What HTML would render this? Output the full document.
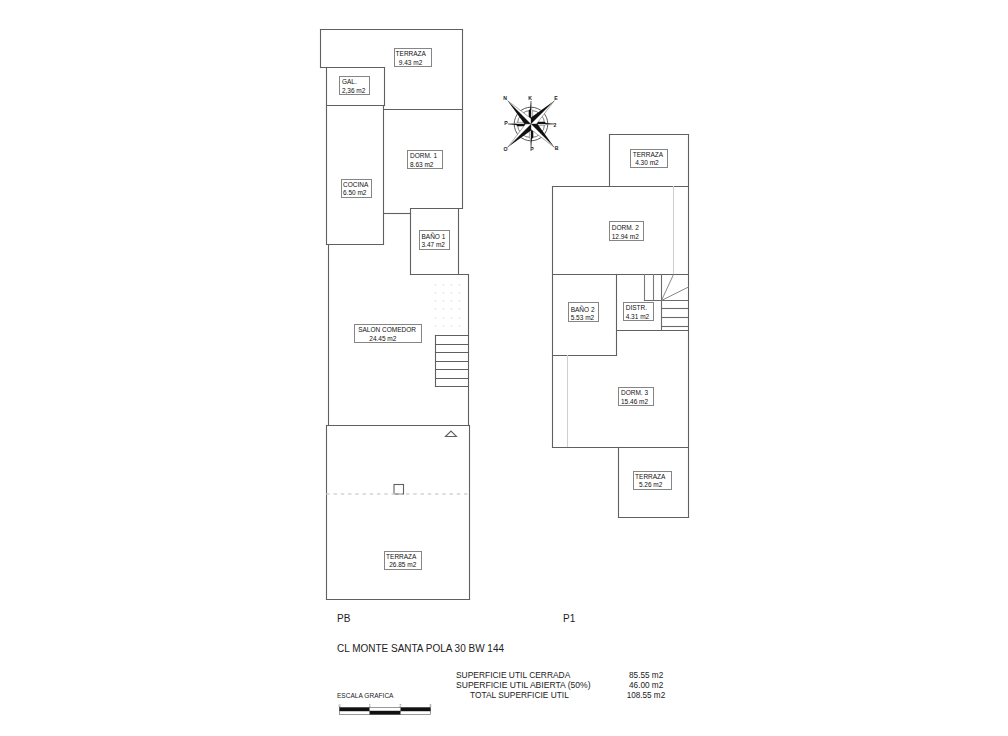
<!DOCTYPE html>
<html><head><meta charset="utf-8">
<style>
html,body{margin:0;padding:0;background:#fff;}
body{width:1008px;height:736px;overflow:hidden;position:relative;}
svg{position:absolute;left:0;top:0;}
text{font-family:"Liberation Sans",sans-serif;}
</style></head><body>
<svg width="1008" height="736" viewBox="0 0 1008 736">
<rect x="0" y="0" width="1008" height="736" fill="#fff"/>
<g stroke="#606060" stroke-width="1.1" fill="none" stroke-linecap="square">
<line x1="320.5" y1="29.5" x2="462.5" y2="29.5"/>
<line x1="320.5" y1="29.5" x2="320.5" y2="67.5"/>
<line x1="320.5" y1="67.5" x2="384.5" y2="67.5"/>
<line x1="462.5" y1="29.5" x2="462.5" y2="208"/>
<line x1="326.5" y1="67.5" x2="326.5" y2="244.5"/>
<line x1="384.5" y1="67.5" x2="384.5" y2="105.5"/>
<line x1="383.5" y1="105.5" x2="383.5" y2="244.5"/>
<line x1="326.5" y1="105.5" x2="384.5" y2="105.5"/>
<line x1="383.5" y1="109.5" x2="462.5" y2="109.5"/>
<line x1="326.5" y1="244.5" x2="383.5" y2="244.5"/>
<line x1="383.5" y1="213.5" x2="410.5" y2="213.5"/>
<line x1="410.5" y1="208.5" x2="462.5" y2="208.5"/>
<line x1="410.5" y1="208.5" x2="410.5" y2="274.5"/>
<line x1="458.5" y1="208.5" x2="458.5" y2="274.5"/>
<line x1="410.5" y1="274.5" x2="468.5" y2="274.5"/>
<line x1="468.5" y1="274.5" x2="468.5" y2="425.5"/>
<line x1="328.5" y1="244.5" x2="328.5" y2="425.5"/>
<line x1="326.5" y1="425.5" x2="469.5" y2="425.5"/>
<line x1="326.5" y1="425.5" x2="326.5" y2="599.5"/>
<line x1="469.5" y1="425.5" x2="469.5" y2="599.5"/>
<line x1="326.5" y1="599.5" x2="469.5" y2="599.5"/>
<line x1="435.5" y1="335.5" x2="468.5" y2="335.5"/>
<line x1="435.5" y1="335.5" x2="435.5" y2="386.5"/>
<line x1="435.5" y1="386.5" x2="468.5" y2="386.5"/>
<line x1="435.5" y1="344.5" x2="468.5" y2="344.5"/>
<line x1="435.5" y1="352.5" x2="468.5" y2="352.5"/>
<line x1="435.5" y1="361.5" x2="468.5" y2="361.5"/>
<line x1="435.5" y1="369.5" x2="468.5" y2="369.5"/>
<line x1="435.5" y1="378.5" x2="468.5" y2="378.5"/>
<line x1="609.5" y1="134.5" x2="688.5" y2="134.5"/>
<line x1="609.5" y1="134.5" x2="609.5" y2="186.5"/>
<line x1="688.5" y1="134.5" x2="688.5" y2="517.5"/>
<line x1="552.5" y1="186.5" x2="688.5" y2="186.5"/>
<line x1="552.5" y1="186.5" x2="552.5" y2="447.5"/>
<line x1="673.5" y1="186.5" x2="673.5" y2="274.5" stroke="#d0d0d0"/>
<line x1="552.5" y1="274.5" x2="688.5" y2="274.5"/>
<line x1="616.5" y1="274.5" x2="616.5" y2="355.5"/>
<line x1="552.5" y1="355.5" x2="616.5" y2="355.5"/>
<line x1="616.5" y1="330.5" x2="688.5" y2="330.5"/>
<line x1="644.5" y1="274.5" x2="644.5" y2="300.5" stroke="#7a7a7a"/>
<line x1="653.5" y1="274.5" x2="653.5" y2="300.5" stroke="#7a7a7a"/>
<line x1="661.5" y1="274.5" x2="661.5" y2="330.5" stroke="#6a6a6a"/>
<line x1="644.5" y1="300.5" x2="688.5" y2="300.5" stroke="#6a6a6a"/>
<line x1="661.5" y1="308.5" x2="688.5" y2="308.5" stroke="#6a6a6a"/>
<line x1="661.5" y1="317.5" x2="688.5" y2="317.5" stroke="#6a6a6a"/>
<line x1="661.5" y1="326.5" x2="688.5" y2="326.5" stroke="#6a6a6a"/>
<line x1="661.5" y1="300.5" x2="673.5" y2="274.5" stroke="#7a7a7a" stroke-width="0.9"/>
<line x1="661.5" y1="300.5" x2="688.5" y2="287" stroke="#7a7a7a" stroke-width="0.9"/>
<line x1="567.5" y1="355.5" x2="567.5" y2="447.5" stroke="#d0d0d0"/>
<line x1="552.5" y1="447.5" x2="688.5" y2="447.5"/>
<line x1="618.5" y1="447.5" x2="618.5" y2="517.5"/>
<line x1="618.5" y1="517.5" x2="688.5" y2="517.5"/>
<polygon points="445.5,436.5 451,431 456.5,436.5" />
<rect x="394" y="484.5" width="9.5" height="9.5"/>
<line x1="327" y1="494" x2="469" y2="494" stroke="#d4d4d4" stroke-width="1.4" stroke-dasharray="2,5.25"/>
<circle cx="435.5" cy="285" r="1" fill="#e9e9e9" stroke="none"/><circle cx="435.5" cy="293" r="1" fill="#e9e9e9" stroke="none"/><circle cx="435.5" cy="301" r="1" fill="#e9e9e9" stroke="none"/><circle cx="435.5" cy="309" r="1" fill="#e9e9e9" stroke="none"/><circle cx="435.5" cy="318" r="1" fill="#e9e9e9" stroke="none"/><circle cx="435.5" cy="326" r="1" fill="#e9e9e9" stroke="none"/><circle cx="443.5" cy="285" r="1" fill="#e9e9e9" stroke="none"/><circle cx="443.5" cy="293" r="1" fill="#e9e9e9" stroke="none"/><circle cx="443.5" cy="301" r="1" fill="#e9e9e9" stroke="none"/><circle cx="443.5" cy="309" r="1" fill="#e9e9e9" stroke="none"/><circle cx="443.5" cy="318" r="1" fill="#e9e9e9" stroke="none"/><circle cx="443.5" cy="326" r="1" fill="#e9e9e9" stroke="none"/><circle cx="451.5" cy="285" r="1" fill="#e9e9e9" stroke="none"/><circle cx="451.5" cy="293" r="1" fill="#e9e9e9" stroke="none"/><circle cx="451.5" cy="301" r="1" fill="#e9e9e9" stroke="none"/><circle cx="451.5" cy="309" r="1" fill="#e9e9e9" stroke="none"/><circle cx="451.5" cy="318" r="1" fill="#e9e9e9" stroke="none"/><circle cx="451.5" cy="326" r="1" fill="#e9e9e9" stroke="none"/><circle cx="459.5" cy="285" r="1" fill="#e9e9e9" stroke="none"/><circle cx="459.5" cy="293" r="1" fill="#e9e9e9" stroke="none"/><circle cx="459.5" cy="301" r="1" fill="#e9e9e9" stroke="none"/><circle cx="459.5" cy="309" r="1" fill="#e9e9e9" stroke="none"/><circle cx="459.5" cy="318" r="1" fill="#e9e9e9" stroke="none"/><circle cx="459.5" cy="326" r="1" fill="#e9e9e9" stroke="none"/>
</g>
<g stroke="#858585" stroke-width="1" fill="none">
<rect x="394.5" y="48.5" width="37.0" height="18.0"/>
<rect x="339.5" y="76.5" width="30.0" height="18.0"/>
<rect x="341.5" y="179.5" width="30.0" height="18.0"/>
<rect x="407.5" y="150.5" width="35.0" height="18.0"/>
<rect x="419.5" y="230.5" width="30.0" height="19.0"/>
<rect x="354.5" y="324.5" width="67.0" height="18.0"/>
<rect x="384.5" y="551.5" width="37.0" height="18.0"/>
<rect x="630.5" y="149.5" width="37.0" height="18.0"/>
<rect x="609.5" y="221.5" width="34.0" height="19.0"/>
<rect x="568.5" y="302.5" width="30.0" height="19.0"/>
<rect x="623.5" y="302.5" width="30.0" height="18.0"/>
<rect x="618.5" y="387.5" width="35.0" height="18.0"/>
<rect x="633.5" y="471.5" width="38.0" height="18.0"/>
</g>
<g fill="#111" font-size="6.5">
<text x="395.6" y="56.3">TERRAZA</text>
<text x="398.8" y="64.80000000000001">9.43 m2</text>
<text x="341.90000000000003" y="84.0">GAL.</text>
<text x="341.90000000000003" y="93.2">2,36 m2</text>
<text x="343.0" y="187.20000000000002">COCINA</text>
<text x="343.0" y="195.0">6.50 m2</text>
<text x="410.0" y="158.20000000000002">DORM. 1</text>
<text x="410.0" y="167.20000000000002">8.63 m2</text>
<text x="421.5" y="239.3">BAÑO 1</text>
<text x="421.5" y="247.0">3.47 m2</text>
<text x="358.20000000000005" y="332.29999999999995">SALON COMEDOR</text>
<text x="369.3" y="340.9">24.45 m2</text>
<text x="386.1" y="559.1999999999999">TERRAZA</text>
<text x="389.20000000000005" y="567.0">26.85 m2</text>
<text x="632.7" y="157.20000000000002">TERRAZA</text>
<text x="635.2" y="165.3">4.30 m2</text>
<text x="611.7" y="230.1">DORM. 2</text>
<text x="611.7" y="238.9">12.94 m2</text>
<text x="570.7" y="311.9">BAÑO 2</text>
<text x="570.7" y="319.5">5.53 m2</text>
<text x="625.7" y="310.09999999999997">DISTR.</text>
<text x="625.7" y="319.0">4.31 m2</text>
<text x="621.0" y="395.29999999999995">DORM. 3</text>
<text x="621.0" y="404.0">15.46 m2</text>
<text x="635.1" y="479.09999999999997">TERRAZA</text>
<text x="638.9" y="487.2">5.26 m2</text>
</g>
<g fill="#222">
<text x="337" y="621.5" font-size="10">PB</text>
<text x="563" y="621.5" font-size="10">P1</text>
<text x="337" y="651.6" font-size="10" textLength="167" lengthAdjust="spacingAndGlyphs">CL MONTE SANTA POLA 30 BW 144</text>
<text x="337" y="698.2" font-size="6.8" textLength="56.5" lengthAdjust="spacingAndGlyphs">ESCALA GRAFICA</text>
<text x="456" y="678" font-size="8.8" textLength="114.3" lengthAdjust="spacingAndGlyphs">SUPERFICIE UTIL CERRADA</text>
<text x="456" y="688" font-size="8.8" textLength="134.5" lengthAdjust="spacingAndGlyphs">SUPERFICIE UTIL ABIERTA (50%)</text>
<text x="470" y="698.1" font-size="8.8" textLength="98.8" lengthAdjust="spacingAndGlyphs">TOTAL SUPERFICIE UTIL</text>
<text x="629" y="678" font-size="8.8" textLength="34.3" lengthAdjust="spacingAndGlyphs">85.55 m2</text>
<text x="629" y="688" font-size="8.8" textLength="34.3" lengthAdjust="spacingAndGlyphs">46.00 m2</text>
<text x="626.7" y="698.1" font-size="8.8" textLength="38.5" lengthAdjust="spacingAndGlyphs">108.55 m2</text>
</g>
<!-- scale bar -->
<g stroke="#555" stroke-width="0.6">
<rect x="339.5" y="707.5" width="91" height="7" fill="#fff"/>
<line x1="339.5" y1="711" x2="430.5" y2="711"/>
</g>
<g fill="#111">
<rect x="339.5" y="707.5" width="30" height="3.5"/>
<rect x="400.5" y="707.5" width="30" height="3.5"/>
<rect x="369.5" y="711" width="31" height="3.5"/>
</g>
<g fill="#444" font-size="3.6">
<text x="338.6" y="706.6">0</text><text x="368.8" y="706.6">1</text><text x="399.3" y="706.6">2</text><text x="429.3" y="706.6">3</text>
</g>
<!-- compass -->
<g>
<circle cx="531" cy="124" r="16.8" fill="none" stroke="#444" stroke-width="0.9"/>
<circle cx="531" cy="124" r="13.6" fill="none" stroke="#444" stroke-width="0.7"/>
<polygon points="531.00,120.00 532.60,119.00 532.60,110.50 531.60,109.00 531.00,101.00" fill="#fff" stroke="#555" stroke-width="0.5"/>
<polygon points="531.00,120.00 528.70,119.00 528.70,110.50 530.10,109.00 531.00,101.00" fill="#111"/>
<polygon points="535.00,124.00 536.00,125.60 544.50,125.60 546.00,124.60 554.00,124.00" fill="#fff" stroke="#555" stroke-width="0.5"/>
<polygon points="535.00,124.00 536.00,121.70 544.50,121.70 546.00,123.10 554.00,124.00" fill="#111"/>
<polygon points="531.00,128.00 529.40,129.00 529.40,137.50 530.40,139.00 531.00,147.00" fill="#fff" stroke="#555" stroke-width="0.5"/>
<polygon points="531.00,128.00 533.30,129.00 533.30,137.50 531.90,139.00 531.00,147.00" fill="#111"/>
<polygon points="527.00,124.00 526.00,122.40 517.50,122.40 516.00,123.40 508.00,124.00" fill="#fff" stroke="#555" stroke-width="0.5"/>
<polygon points="527.00,124.00 526.00,126.30 517.50,126.30 516.00,124.90 508.00,124.00" fill="#111"/>
<polygon points="531.00,124.00 507.67,100.67 524.50,124.00" fill="#111"/>
<polygon points="531.00,124.00 507.67,100.67 531.00,118.50" fill="#fff" stroke="#555" stroke-width="0.5"/>
<polygon points="531.00,124.00 554.33,100.67 531.00,117.50" fill="#111"/>
<polygon points="531.00,124.00 554.33,100.67 536.50,124.00" fill="#fff" stroke="#555" stroke-width="0.5"/>
<polygon points="531.00,124.00 554.33,147.33 537.50,124.00" fill="#111"/>
<polygon points="531.00,124.00 554.33,147.33 531.00,129.50" fill="#fff" stroke="#555" stroke-width="0.5"/>
<polygon points="531.00,124.00 507.67,147.33 531.00,130.50" fill="#111"/>
<polygon points="531.00,124.00 507.67,147.33 525.50,124.00" fill="#fff" stroke="#555" stroke-width="0.5"/>
</g>
<g fill="#222" font-size="5.2" font-weight="bold">
<text x="505" y="100" text-anchor="middle">N</text>
<text x="530" y="100" text-anchor="middle">K</text>
<text x="556" y="100" text-anchor="middle">E</text>
<text x="506" y="125" text-anchor="middle">P</text>
<text x="555" y="126.5" text-anchor="middle">2</text>
<text x="505.5" y="151" text-anchor="middle">O</text>
<text x="532" y="150.5" text-anchor="middle">P</text>
<text x="556.5" y="150" text-anchor="middle">B</text>
</g>
</svg>
</body></html>
